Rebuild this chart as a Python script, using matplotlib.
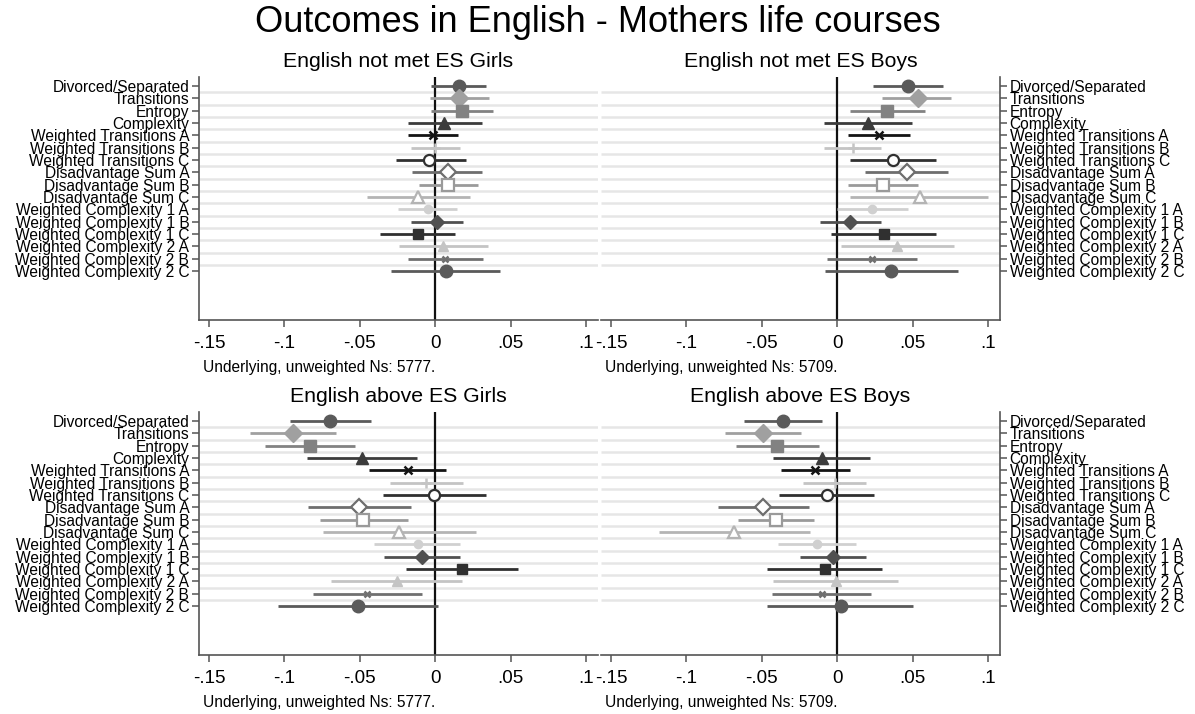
import numpy as np
import matplotlib.pyplot as plt

plt.rcParams['font.family'] = ['Liberation Sans', 'DejaVu Sans']

labels = ['Divorced/Separated', 'Transitions', 'Entropy', 'Complexity',
          'Weighted Transitions A', 'Weighted Transitions B', 'Weighted Transitions C',
          'Disadvantage Sum A', 'Disadvantage Sum B', 'Disadvantage Sum C',
          'Weighted Complexity 1 A', 'Weighted Complexity 1 B', 'Weighted Complexity 1 C',
          'Weighted Complexity 2 A', 'Weighted Complexity 2 B', 'Weighted Complexity 2 C']

# English not met ES - girls
nm_girls_b = [0.016, 0.016, 0.0174, 0.0059, -0.0018, 0.0, -0.0041, 0.0082,
              0.0087, -0.0113, -0.0051, 0.0013, -0.0118, 0.0054, 0.0064, 0.0069]
nm_girls_lo = [-0.003, -0.0033, -0.003, -0.0184, -0.0184, -0.0161, -0.0261, -0.0153,
               -0.011, -0.0455, -0.0246, -0.0159, -0.0368, -0.0238, -0.0179, -0.0292]
nm_girls_hi = [0.0338, 0.0358, 0.0379, 0.0307, 0.0153, 0.0166, 0.020, 0.0312,
               0.0284, 0.023, 0.0141, 0.0184, 0.0128, 0.035, 0.0317, 0.043]

# English not met ES - boys
nm_boys_b = [0.0466, 0.0535, 0.033, 0.020, 0.0276, 0.0104, 0.037, 0.0464,
             0.0302, 0.0545, 0.0231, 0.0086, 0.0307, 0.0398, 0.0231, 0.0357]
nm_boys_lo = [0.0236, 0.0299, 0.0084, -0.0089, 0.0071, -0.0086, 0.0084, 0.0185,
              0.0071, 0.0086, 0.0, -0.0112, -0.0043, 0.0023, -0.0066, -0.0084]
nm_boys_hi = [0.0702, 0.0755, 0.0578, 0.0492, 0.0484, 0.0292, 0.0657, 0.0735,
              0.0535, 0.1001, 0.0466, 0.0289, 0.0651, 0.0773, 0.053, 0.0798]

# English above ES - girls
ab_girls_b = [-0.0696, -0.0946, -0.0831, -0.0486, -0.0179, -0.0059, -0.001, -0.0506,
              -0.0476, -0.0238, -0.0115, -0.0087, 0.0179, -0.0256, -0.045, -0.0512]
ab_girls_lo = [-0.0962, -0.123, -0.1128, -0.0849, -0.0437, -0.0302, -0.0345, -0.0844,
               -0.0767, -0.0744, -0.0404, -0.0338, -0.0192, -0.069, -0.0813, -0.1041]
ab_girls_hi = [-0.0425, -0.0655, -0.0532, -0.0123, 0.0072, 0.0184, 0.0335, -0.0159,
               -0.0184, 0.0269, 0.0166, 0.0166, 0.0547, 0.0174, -0.0087, 0.002]

# English above ES - boys
ab_boys_b = [-0.0362, -0.0494, -0.040, -0.0104, -0.015, -0.0013, -0.0071, -0.0494,
             -0.0408, -0.0682, -0.0137, -0.0028, -0.0084, -0.0008, -0.0101, 0.0023]
ab_boys_lo = [-0.0619, -0.0745, -0.0672, -0.0423, -0.0373, -0.0226, -0.0385, -0.0791,
              -0.0659, -0.1179, -0.0395, -0.0246, -0.0464, -0.0423, -0.0431, -0.0464]
ab_boys_hi = [-0.0104, -0.0243, -0.0124, 0.0218, 0.0081, 0.0193, 0.0243, -0.019,
              -0.0152, -0.018, 0.0122, 0.0193, 0.0297, 0.0403, 0.0223, 0.0504]

xticks = [-0.15, -0.1, -0.05, 0, 0.05, 0.1]

# marker, colour, size, filled
styles = [('o', '#5a5a5a', 9, True), ('D', '#a0a0a0', 9, True), ('s', '#828282', 9, True),
          ('^', '#3c3c3c', 9, True), ('x', '#141414', 6, True), ('+', '#c4c4c4', 7, True),
          ('o', '#303030', 8, False), ('D', '#6e6e6e', 8, False), ('s', '#9a9a9a', 8, False),
          ('^', '#b4b4b4', 8, False), ('o', '#d0d0d0', 6, True), ('D', '#505050', 7, True),
          ('s', '#303030', 6.5, True), ('^', '#c4c4c4', 7, True), ('x', '#707070', 4.5, True),
          ('o', '#5a5a5a', 9, True)]


def fmt(v):
    s = ('%.2f' % v).rstrip('0').rstrip('.')
    return s.replace('0.', '.')


W, H = 1195, 714
fig = plt.figure(figsize=(W / 100, H / 100), dpi=100)

panels = [
    (199, 77, nm_girls_b, nm_girls_lo, nm_girls_hi, 'left', 'English not met ES Girls', 'Underlying, unweighted Ns: 5777.'),
    (601, 77, nm_boys_b, nm_boys_lo, nm_boys_hi, 'right', 'English not met ES Boys', 'Underlying, unweighted Ns: 5709.'),
    (199, 412, ab_girls_b, ab_girls_lo, ab_girls_hi, 'left', 'English above ES Girls', 'Underlying, unweighted Ns: 5777.'),
    (601, 412, ab_boys_b, ab_boys_lo, ab_boys_hi, 'right', 'English above ES Boys', 'Underlying, unweighted Ns: 5709.'),
]

n = len(labels)
rows = np.arange(n)
xlim = (-0.1566, 0.1078)

for x0, y0, b, lo, hi, side, title, note in panels:
    ax = fig.add_axes([x0 / W, 1 - (y0 + 243) / H, 399 / W, 243 / H])
    ax.set_xlim(*xlim)
    ax.set_ylim(n - 1 + 3.97, -0.73)

    ax.hlines(rows[:-1] + 0.5, xlim[0], xlim[1], color='#e6e6e6', lw=1.8, zorder=1)
    ax.axvline(0, color='#111111', lw=1.6, zorder=2)

    for i in rows:
        mk, c, ms, filled = styles[i]
        ax.hlines(i, lo[i], hi[i], color=c, lw=2, zorder=3)
        if mk in ('x', '+'):
            ax.plot(b[i], i, marker=mk, color=c, ms=ms, mew=1.8, zorder=4)
        elif filled:
            ax.plot(b[i], i, marker=mk, color=c, ms=ms, mec=c, zorder=4)
        else:
            ax.plot(b[i], i, marker=mk, mfc='white', mec=c, ms=ms, mew=1.6, zorder=4)

    ax.set_yticks(rows)
    ax.set_yticklabels(labels, fontsize=11.2)
    ax.set_xticks(xticks)
    ax.set_xticklabels([fmt(v) for v in xticks], fontsize=13.5)
    ax.tick_params(axis='x', length=5, width=1.1, color='#555555', pad=6)
    ax.tick_params(axis='y', length=5, width=1.1, color='#555555', pad=2)

    for s in ('top', 'left', 'right'):
        ax.spines[s].set_visible(False)
    ax.spines['bottom'].set_color('#555555')
    ax.spines['bottom'].set_linewidth(1.2)
    ax.spines[side].set_visible(True)
    ax.spines[side].set_color('#555555')
    ax.spines[side].set_linewidth(1.2)
    if side == 'right':
        ax.yaxis.tick_right()

    ax.set_title(title, fontsize=15.3, pad=7)
    fig.text((x0 + 4) / W, 1 - (y0 + 291) / H, note, fontsize=11.2, va='center', ha='left')

fig.text(0.5, 1 - 23 / H, 'Outcomes in English - Mothers life courses', fontsize=26,
         ha='center', va='center')

fig.savefig('out.png', dpi=100, facecolor='white')
